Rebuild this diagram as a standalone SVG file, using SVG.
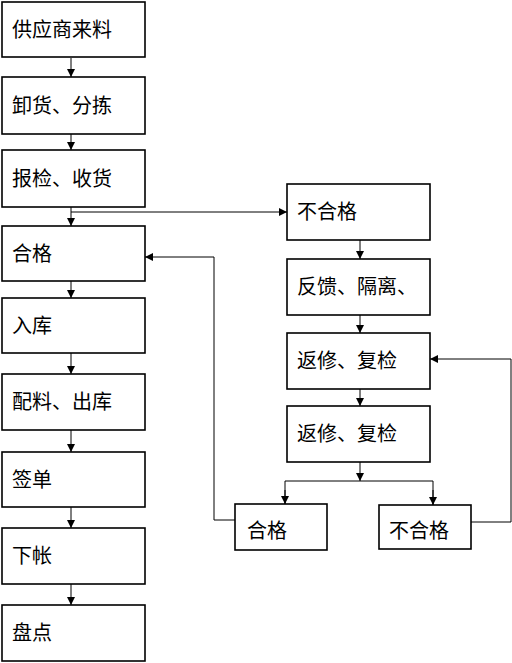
<svg xmlns="http://www.w3.org/2000/svg" width="512" height="663" viewBox="0 0 512 663">
<defs>
<style>
.box{fill:#fff;stroke:#000;stroke-width:1.6}
.t{font-family:"Noto Sans CJK SC","Noto Sans CJK JP",sans-serif;font-size:20px;fill:#000}
.c{fill:none;stroke:#000;stroke-width:1}
</style>
<marker id="a" markerUnits="userSpaceOnUse" markerWidth="8" markerHeight="8" refX="8" refY="4" orient="auto">
<path d="M0,0 L8,4 L0,8 z" fill="#000"/>
</marker>
</defs>
<rect width="512" height="663" fill="#fff"/>
<g id="connectors">
<line class="c" x1="71" y1="58" x2="71" y2="77" marker-end="url(#a)"/>
<line class="c" x1="71" y1="134" x2="71" y2="150" marker-end="url(#a)"/>
<line class="c" x1="71" y1="207" x2="71" y2="226" marker-end="url(#a)"/>
<line class="c" x1="71" y1="212" x2="287" y2="212" marker-end="url(#a)"/>
<line class="c" x1="71" y1="281" x2="71" y2="298" marker-end="url(#a)"/>
<line class="c" x1="71" y1="353" x2="71" y2="374" marker-end="url(#a)"/>
<line class="c" x1="71" y1="430" x2="71" y2="452" marker-end="url(#a)"/>
<line class="c" x1="71" y1="507" x2="71" y2="528" marker-end="url(#a)"/>
<line class="c" x1="71" y1="584" x2="71" y2="605" marker-end="url(#a)"/>
<line class="c" x1="360" y1="240" x2="360" y2="259" marker-end="url(#a)"/>
<line class="c" x1="360" y1="315" x2="360" y2="333" marker-end="url(#a)"/>
<line class="c" x1="360" y1="389" x2="360" y2="406" marker-end="url(#a)"/>
<line class="c" x1="360" y1="462" x2="360" y2="481" marker-end="url(#a)"/>
<polyline class="c" points="285,504 285,481 433,481 433,505"/>
<line class="c" x1="285" y1="490" x2="285" y2="504" marker-end="url(#a)"/>
<line class="c" x1="433" y1="490" x2="433" y2="505" marker-end="url(#a)"/>
<polyline class="c" points="235,520 214,520 214,257 145,257" marker-end="url(#a)"/>
<polyline class="c" points="471,522 511,522 511,359 430,359" marker-end="url(#a)"/>
</g>
<g id="n1"><rect class="box" x="2" y="2" width="143" height="55"/><text class="t" x="12" y="37">供应商来料</text></g>
<g id="n2"><rect class="box" x="2" y="77" width="143" height="57"/><text class="t" x="12" y="113">卸货、分拣</text></g>
<g id="n3"><rect class="box" x="2" y="150" width="143" height="57"/><text class="t" x="12" y="186">报检、收货</text></g>
<g id="n4"><rect class="box" x="2" y="226" width="143" height="55"/><text class="t" x="12" y="261">合格</text></g>
<g id="n5"><rect class="box" x="2" y="298" width="143" height="55"/><text class="t" x="12" y="333">入库</text></g>
<g id="n6"><rect class="box" x="2" y="374" width="143" height="56"/><text class="t" x="12" y="409">配料、出库</text></g>
<g id="n7"><rect class="box" x="2" y="452" width="143" height="55"/><text class="t" x="12" y="487">签单</text></g>
<g id="n8"><rect class="box" x="2" y="528" width="143" height="56"/><text class="t" x="12" y="563">下帐</text></g>
<g id="n9"><rect class="box" x="2" y="605" width="143" height="56"/><text class="t" x="12" y="640">盘点</text></g>
<g id="r1"><rect class="box" x="287" y="184" width="143" height="56"/><text class="t" x="297" y="219">不合格</text></g>
<g id="r2"><rect class="box" x="287" y="259" width="143" height="56"/><text class="t" x="297" y="294">反馈、隔离、</text></g>
<g id="r3"><rect class="box" x="287" y="333" width="143" height="56"/><text class="t" x="297" y="368">返修、复检</text></g>
<g id="r4"><rect class="box" x="287" y="406" width="143" height="56"/><text class="t" x="297" y="441">返修、复检</text></g>
<g id="b1"><rect class="box" x="235" y="504" width="92" height="46"/><text class="t" x="247" y="538">合格</text></g>
<g id="b2"><rect class="box" x="379" y="505" width="92" height="44"/><text class="t" x="389" y="538">不合格</text></g>
</svg>
